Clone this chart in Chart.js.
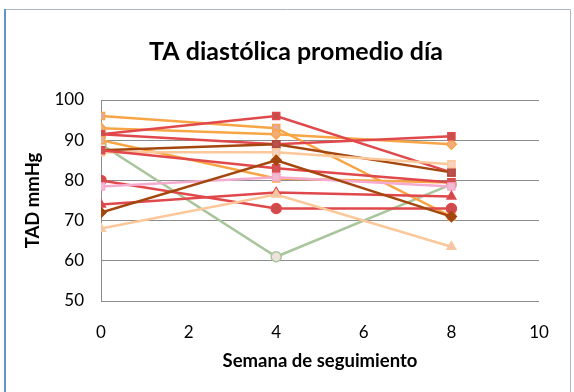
<!DOCTYPE html>
<html>
<head>
<meta charset="utf-8">
<script src="https://cdn.jsdelivr.net/npm/chart.js@4/dist/chart.umd.min.js"></script>
<style>
  html, body { margin: 0; padding: 0; background: #fff; }
  #wrap { position: relative; width: 574px; height: 392px; }
  canvas { display: block; }
</style>
</head>
<body>
<div id="wrap"><canvas id="c" width="574" height="392"></canvas></div>
<script>
// Weeks of follow-up
const weeks = [0, 4, 8];

// Mean daytime diastolic BP (mmHg) per patient
const p01 = [96, 93, 71];
const p02 = [93, 91.5, 89];
const p03 = [91.5, 96, 82];
const p04 = [91.5, 89, 91];
const p05 = [90, 80.5, 79.5];
const p06 = [89, 61, 79];
const p07 = [87.5, 89, 82];
const p08 = [87, 87, 84];
const p09 = [87.5, 83, 79.5];
const p10 = [80, 73, 73];
const p11 = [78.5, 80.8, 78.5];
const p12 = [74, 77, 76];
const p13 = [72, 85, 71];
const p14 = [68, 76.5, 63.5];

const xTicks = [0, 2, 4, 6, 8, 10];
const yTicks = [50, 60, 70, 80, 90, 100];

const chartTitle = 'TA diastólica promedio día';

const RED = '#e0484b', ORANGE = '#f8a546', BROWN = '#a3470f',
      PEACH = '#fcc89a', PINK = '#f5abd0', GREEN = '#a9c59b';

function series(vals, line, style, fill, edge) {
  return {
    data: weeks.map((w, i) => ({ x: w, y: vals[i] })),
    borderColor: line,
    backgroundColor: fill,
    pointBorderColor: edge || line,
    pointBackgroundColor: fill,
    pointStyle: style,
    pointRadius: 5,
    pointBorderWidth: 1.5,
    borderWidth: 2.5,
    tension: 0
  };
}

const datasets = [
  series(p14, PEACH, 'triangle', '#efc2b4', PEACH),
  series(p13, BROWN, 'rectRot', BROWN, BROWN),
  series(p12, RED, 'triangle', '#cf4a4c', RED),
  series(p11, PINK, 'rect', '#f1bccf', PINK),
  series(p10, RED, 'circle', '#cd4b4d', RED),
  series(p09, RED, 'rect', '#cf5552', RED),
  series(p08, PEACH, 'rect', '#f4d3c2', PEACH),
  series(p07, BROWN, 'rect', '#b9504c', '#b0483f'),
  series(p05, ORANGE, 'rect', '#e3b0a6', ORANGE),
  series(p04, RED, 'rect', '#c94f4d', RED),
  series(p03, RED, 'rect', '#c44c4b', RED),
  series(p02, ORANGE, 'rectRot', '#f1ab7e', ORANGE),
  series(p01, ORANGE, 'rect', '#e2aaa6', ORANGE),
  series(p06, GREEN, 'circle', '#eee2de', GREEN)
];

const FONT = 'Lato, "Open Sans", sans-serif';

// outer chart frame and centred chart title
const framePlugin = {
  id: 'frame',
  afterDraw(chart) {
    const ctx = chart.ctx;
    ctx.save();
    ctx.strokeStyle = '#aab6c6';
    ctx.lineWidth = 1;
    ctx.beginPath();
    ctx.moveTo(5, 392); ctx.lineTo(5, 9.5); ctx.lineTo(570.5, 9.5); ctx.lineTo(570.5, 392);
    ctx.stroke();
    ctx.strokeStyle = '#5f95cf';
    ctx.lineWidth = 2;
    ctx.beginPath();
    ctx.moveTo(5, 9); ctx.lineTo(5, 392);
    ctx.stroke();

    ctx.fillStyle = '#000';
    ctx.font = 'bold 25px ' + FONT;
    ctx.textAlign = 'center';
    ctx.textBaseline = 'middle';
    ctx.fillText(chartTitle, 296, 52);
    ctx.restore();
  }
};

new Chart(document.getElementById('c'), {
  type: 'line',
  data: { datasets },
  plugins: [framePlugin],
  options: {
    responsive: false,
    animation: false,
    layout: { padding: { left: 10, right: 35, top: 100, bottom: 0 } },
    plugins: {
      legend: { display: false },
      tooltip: { enabled: false },
      title: { display: false }
    },
    scales: {
      x: {
        type: 'linear',
        min: 0, max: 10,
        afterBuildTicks(scale) { scale.ticks = xTicks.map(v => ({ value: v })); },
        afterFit(scale) { scale.height = 91; },
        grid: { display: false, drawTicks: false },
        border: { display: false },
        ticks: { color: '#000', padding: 21, font: { family: FONT, size: 17 } },
        title: {
          display: true,
          text: 'Semana de seguimiento',
          color: '#000',
          font: { family: FONT, size: 18.5, weight: 'bold' },
          padding: { top: 0, bottom: 20 }
        }
      },
      y: {
        min: 50, max: 100,
        afterBuildTicks(scale) { scale.ticks = yTicks.map(v => ({ value: v })); },
        afterFit(scale) { scale.width = 91; },
        grid: { color: '#8c8c8c', lineWidth: 1, drawTicks: false },
        border: { display: true, color: '#8c8c8c', width: 1 },
        ticks: { color: '#000', padding: 17, font: { family: FONT, size: 17 } },
        title: {
          display: true,
          text: 'TAD mmHg',
          color: '#000',
          font: { family: FONT, size: 18.5, weight: 'bold' },
          padding: { top: 12, bottom: 0 }
        }
      }
    }
  }
});
</script>
</body>
</html>
